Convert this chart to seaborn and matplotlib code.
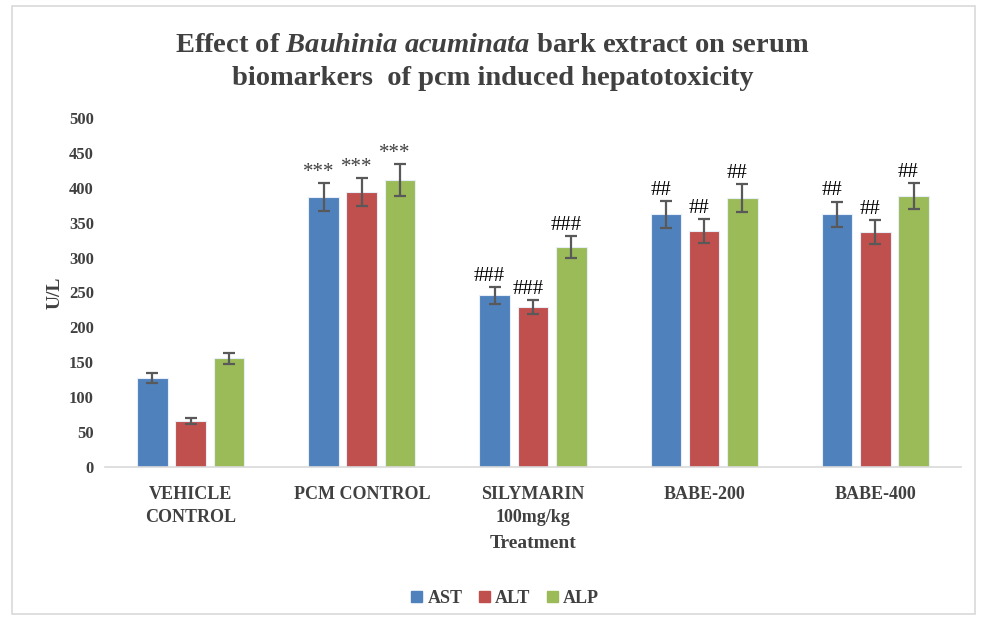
import numpy as np
import pandas as pd
import matplotlib
matplotlib.use("Agg")
import matplotlib.pyplot as plt
import seaborn as sns
from matplotlib.patches import Rectangle

treatments = ["VEHICLE\nCONTROL", "PCM CONTROL", "SILYMARIN\n100mg/kg", "BABE-200", "BABE-400"]
markers = ["AST", "ALT", "ALP"]

ast_mean = [128, 387, 246, 362, 362]
alt_mean = [66, 394, 229, 338, 337]
alp_mean = [156, 411, 315, 385, 388]

ast_err = [7, 20, 12, 19, 18]
alt_err = [4, 20, 10, 17, 17]
alp_err = [8, 23, 16, 20, 19]

ast_sig = ["", "***", "###", "##", "##"]
alt_sig = ["", "***", "###", "##", "##"]
alp_sig = ["", "***", "###", "##", "##"]

colors = ["#4F81BD", "#C0504D", "#9BBB59"]

df = pd.DataFrame({
    "Treatment": treatments * 3,
    "Marker": np.repeat(markers, len(treatments)),
    "Value": ast_mean + alt_mean + alp_mean,
})
errs = [ast_err, alt_err, alp_err]
sigs = [ast_sig, alt_sig, alp_sig]

sns.set_style("white")
plt.rcParams["font.family"] = ["Liberation Serif", "DejaVu Serif"]
plt.rcParams["mathtext.fontset"] = "custom"
plt.rcParams["mathtext.it"] = "Liberation Serif:italic:bold"
plt.rcParams["mathtext.rm"] = "Liberation Serif:bold"

fig = plt.figure(figsize=(9.85, 6.25), dpi=100)
ax = fig.add_axes([0.1066, 0.2528, 0.869, 0.5584])

sns.barplot(data=df, x="Treatment", y="Value", hue="Marker", order=treatments,
            hue_order=markers, palette=colors, width=0.67, gap=0.2,
            errorbar=None, legend=False, ax=ax, saturation=1,
            edgecolor="#e8eef7", linewidth=0.8)

for cont, err, sig in zip(ax.containers, errs, sigs):
    xs = [p.get_x() + p.get_width() / 2 for p in cont.patches]
    ys = [p.get_height() for p in cont.patches]
    ax.errorbar(xs, ys, yerr=err, fmt="none", ecolor="#595959",
                elinewidth=1.6, capsize=4, capthick=1.6)
    for x, y, e, s in zip(xs, ys, err, sig):
        if not s:
            continue
        color = "#404040" if "*" in s else "black"
        ax.text(x - 0.03, y + e + 2, s, ha="center", va="bottom",
                fontsize=15, color=color)

ax.set_xlim(-0.5, 4.5)
ax.set_ylim(0, 500)
ax.set_yticks(np.arange(0, 501, 50))
ax.tick_params(axis="x", length=0, labelsize=13, pad=14)
ax.tick_params(axis="y", length=0, labelsize=12, pad=8)
for lab in ax.get_xticklabels() + ax.get_yticklabels():
    lab.set_fontweight("bold")
    lab.set_color("#404040")
for lab in ax.get_xticklabels():
    lab.set_linespacing(1.45)
for s in ["top", "right", "left"]:
    ax.spines[s].set_visible(False)
ax.spines["bottom"].set_color("#d9d9d9")
ax.spines["bottom"].set_linewidth(1.2)

ax.set_xlabel("Treatment", fontsize=14, fontweight="bold", color="#404040", labelpad=6)
ax.set_ylabel("U/L", fontsize=14, fontweight="bold", color="#404040", labelpad=4)

fig.text(0.5, 0.927, "Effect of $Bauhinia\\ acuminata$ bark extract on serum",
         ha="center", va="center", fontsize=20.5, fontweight="bold", color="#404040")
fig.text(0.5, 0.874, "biomarkers  of pcm induced hepatotoxicity",
         ha="center", va="center", fontsize=20.5, fontweight="bold", color="#404040")

handles = [Rectangle((0, 0), 1, 1, color=c) for c in colors]
leg = fig.legend(handles, markers, loc="center", bbox_to_anchor=(0.513, 0.043), ncol=3,
                 frameon=False, handlelength=0.6, handleheight=0.6, handletextpad=0.3,
                 columnspacing=0.9, prop={"weight": "bold", "size": 13})
for t in leg.get_texts():
    t.set_color("#404040")

fig.add_artist(Rectangle((0.012, 0.018), 0.978, 0.972, transform=fig.transFigure,
                         fill=False, edgecolor="#d9d9d9", linewidth=1.2))

fig.savefig("out.png", dpi=100)
